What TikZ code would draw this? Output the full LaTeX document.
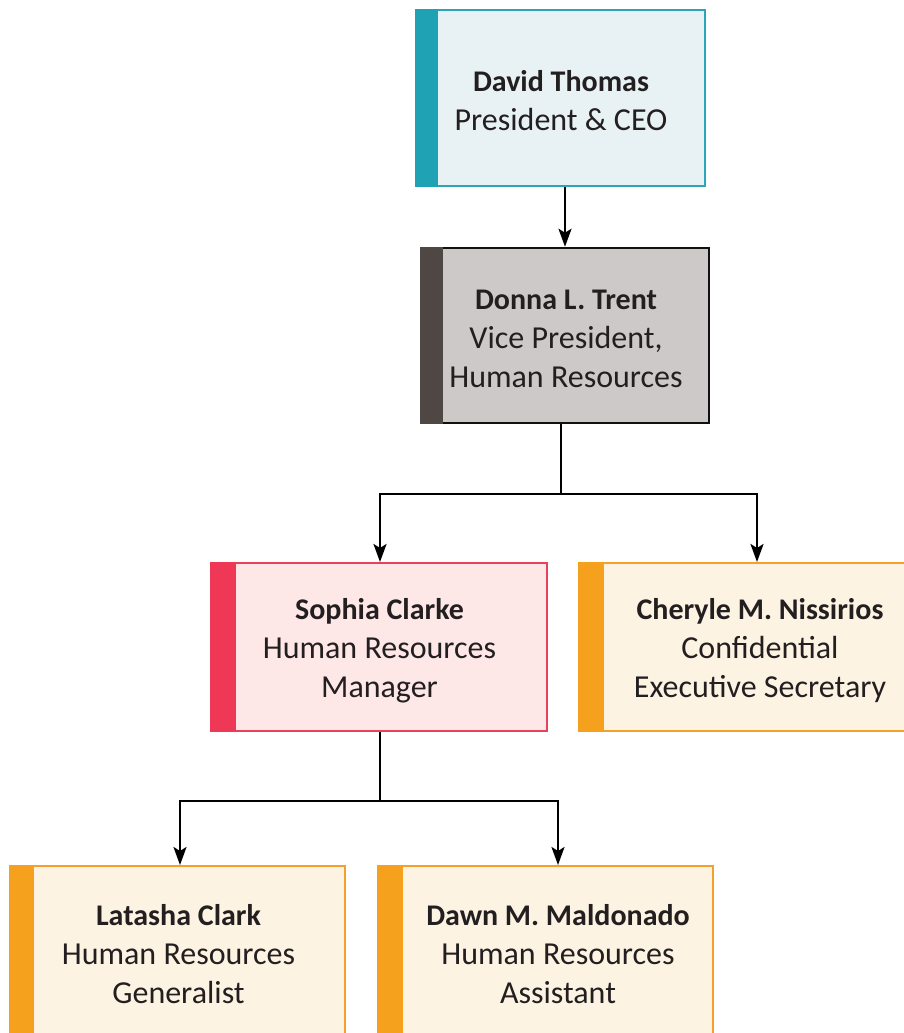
\documentclass[tikz,border=0pt]{standalone}
\usepackage{fontspec}
\setmainfont{Carlito}
\usetikzlibrary{arrows.meta}
\definecolor{txt}{HTML}{231F20}
\definecolor{tealbar}{HTML}{1FA2B4}
\definecolor{tealfill}{HTML}{E8F2F5}
\definecolor{tealline}{HTML}{2AA6B8}
\definecolor{greybar}{HTML}{4F4744}
\definecolor{greyfill}{HTML}{CDC9C9}
\definecolor{greyline}{HTML}{111111}
\definecolor{redbar}{HTML}{EF3856}
\definecolor{redfill}{HTML}{FDE8E7}
\definecolor{redline}{HTML}{E8415B}
\definecolor{orbar}{HTML}{F6A11E}
\definecolor{orfill}{HTML}{FDF3E3}
\definecolor{orline}{HTML}{F4A02A}
\newcommand{\nm}[1]{{\fontsize{30}{39}\selectfont\bfseries #1}}
\begin{document}
\begin{tikzpicture}[x=1pt,y=-1pt,
  card/.style={rectangle, line width=2pt, inner sep=0pt},
  lbl/.style={align=center, text=txt, inner sep=0pt, font=\fontsize{32}{39}\selectfont},
  conn/.style={line width=2.5pt, draw=black, -{Stealth[length=18pt,width=13pt,inset=4pt]}},
  trunk/.style={line width=2.5pt, draw=black}]
\useasboundingbox (0,0) rectangle (904,1033);
\clip (0,0) rectangle (904,1033);
% boxes
\node[card, draw=tealline, fill=tealfill, minimum width=289pt, minimum height=176pt] (b1) at (560.5,98) {};
\node[card, draw=greyline, line width=2.5pt, fill=greyfill, minimum width=288pt, minimum height=175pt] (b2) at (565,335.5) {};
\node[card, draw=redline, fill=redfill, minimum width=336pt, minimum height=168pt] (b3) at (379,647) {};
\node[card, draw=orline, fill=orfill, minimum width=336pt, minimum height=168pt] (b4) at (747,647) {};
\node[card, draw=orline, fill=orfill, minimum width=335pt, minimum height=174pt] (b5) at (177.5,953) {};
\node[card, draw=orline, fill=orfill, minimum width=335pt, minimum height=174pt] (b6) at (545.5,953) {};
% bars
\fill[tealbar] (b1.north west) rectangle ([xshift=23pt]b1.south west);
\fill[greybar] (b2.north west) rectangle ([xshift=23pt]b2.south west);
\fill[redbar] (b3.north west) rectangle ([xshift=26pt]b3.south west);
\fill[orbar] (b4.north west) rectangle ([xshift=26pt]b4.south west);
\fill[orbar] (b5.north west) rectangle ([xshift=25pt]b5.south west);
\fill[orbar] (b6.north west) rectangle ([xshift=26pt]b6.south west);
% texts
\node[lbl] (t1) at (561,101) {\nm{David Thomas}\\President \& CEO};
\node[lbl] (t2) at (566,339) {\nm{Donna L. Trent}\\Vice President,\\Human Resources};
\node[lbl] (t3) at (379.5,651) {\nm{Sophia Clarke}\\Human Resources\\Manager};
\node[lbl] (t4) at (760,651) {\nm{Cheryle M. Nissirios}\\Confidential\\Executive Secretary};
\node[lbl] (t5) at (178.5,954) {\nm{Latasha Clark}\\Human Resources\\Generalist};
\node[lbl] (t6) at (558,954) {\nm{Dawn M. Maldonado}\\Human Resources\\Assistant};
% connectors
\coordinate (j1) at (561,494);
\coordinate (j2) at (380,801);
\draw[conn] (b2.north |- b1.south) -- (b2.north);
\draw[trunk] (j1 |- b2.south) -- (j1);
\draw[conn] (j1) -| ([xshift=1pt]b3.north);
\draw[conn] (j1) -| ([xshift=10pt]b4.north);
\draw[trunk] (j2 |- b3.south) -- (j2);
\draw[conn] (j2) -| ([xshift=2.5pt]b5.north);
\draw[conn] (j2) -| (t6 |- b6.north);
\end{tikzpicture}
\end{document}
